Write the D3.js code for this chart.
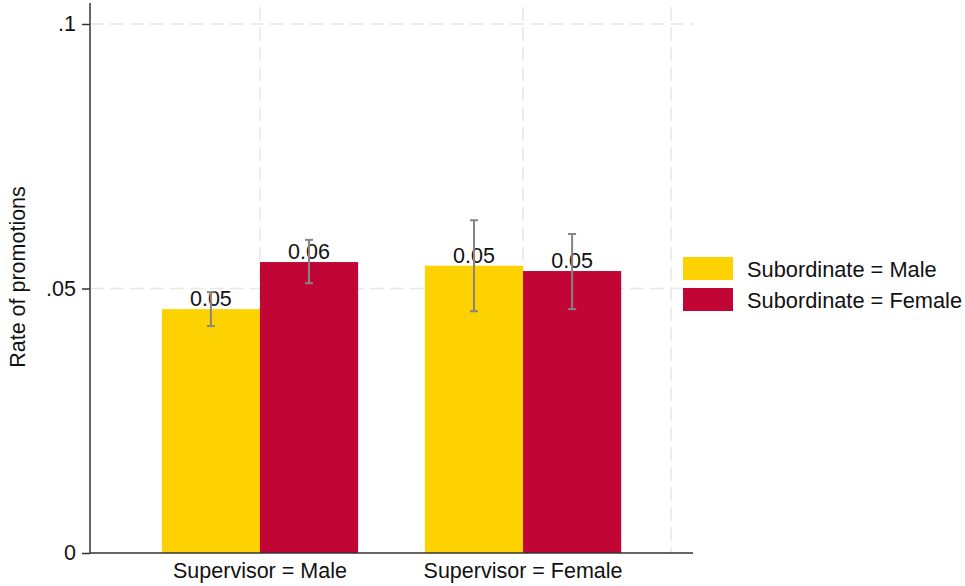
<!DOCTYPE html>
<html lang="en">
<head>
    <meta charset="UTF-8">
    <title>Rate of promotions</title>
    <script src="https://d3js.org/d3.v7.min.js"></script>
    <style>
        body { margin: 0; background: #fff; }
        text { font-family: Arial, "Liberation Sans", sans-serif; fill: #111; }
    </style>
</head>
<body>
    <svg width="965" height="586"></svg>

    <script>
        // Data
        const supervisors = ["Supervisor = Male", "Supervisor = Female"];
        const groupPos = [1, 2];
        const subordinates = ["Subordinate = Male", "Subordinate = Female"];
        const colors = ["#FED100", "#C10534"];
        const rates = [[0.0461, 0.0550], [0.0543, 0.0533]];
        const ciLow = [[0.0429, 0.0510], [0.0457, 0.0461]];
        const ciHigh = [[0.0493, 0.0592], [0.0629, 0.0603]];
        const yTicks = [0, 0.05, 0.1];
        const yTickLabels = ["0", ".05", ".1"];
        const xGrid = [1, 2, 2.563];

        const svg = d3.select("svg");
        const plotLeft = 90, plotRight = 693, plotTop = 3, plotBottom = 553;

        const x = d3.scaleLinear().domain([0.354, 2.646]).range([plotLeft, plotRight]);
        const y = d3.scaleLinear().domain([0, 0.1]).range([plotBottom, 24]);
        const barW = x(1.373) - x(1);

        // Grid lines
        svg.append("g").selectAll("line")
            .data(yTicks.filter(d => d > 0))
            .enter().append("line")
            .attr("x1", plotLeft).attr("x2", plotRight)
            .attr("y1", d => y(d)).attr("y2", d => y(d))
            .attr("stroke", "#e8e8e8").attr("stroke-width", 1.5)
            .attr("stroke-dasharray", "14,6");

        svg.append("g").selectAll("line")
            .data(xGrid)
            .enter().append("line")
            .attr("x1", d => x(d)).attr("x2", d => x(d))
            .attr("y1", 7).attr("y2", plotBottom)
            .attr("stroke", "#e8e8e8").attr("stroke-width", 1.5)
            .attr("stroke-dasharray", "14,6");

        // Bars
        const flat = [];
        rates.forEach((row, g) => row.forEach((v, s) => flat.push({
            g: g, s: s, v: v, lo: ciLow[g][s], hi: ciHigh[g][s]
        })));

        svg.append("g").selectAll("rect")
            .data(flat)
            .enter().append("rect")
            .attr("x", d => x(groupPos[d.g]) + (d.s === 0 ? -barW : 0))
            .attr("width", barW)
            .attr("y", d => y(d.v))
            .attr("height", d => y(0) - y(d.v))
            .attr("fill", d => colors[d.s]);

        // Value labels
        svg.append("g").selectAll("text")
            .data(flat)
            .enter().append("text")
            .attr("x", d => x(groupPos[d.g]) + (d.s === 0 ? -barW / 2 : barW / 2))
            .attr("y", d => y(d.v) - 3)
            .attr("text-anchor", "middle")
            .attr("font-size", 21.5)
            .text(d => d.v.toFixed(2));

        // Error bars
        const eb = svg.append("g").attr("stroke", "#858585").attr("stroke-width", 2);
        flat.forEach(d => {
            const cx = x(groupPos[d.g]) + (d.s === 0 ? -barW / 2 : barW / 2);
            eb.append("line").attr("x1", cx).attr("x2", cx)
                .attr("y1", y(d.lo)).attr("y2", y(d.hi));
            [d.lo, d.hi].forEach(v => {
                eb.append("line").attr("x1", cx - 4).attr("x2", cx + 4)
                    .attr("y1", y(v)).attr("y2", y(v));
            });
        });

        // Y axis
        const yAxis = svg.append("g")
            .attr("transform", "translate(" + plotLeft + ",0)")
            .call(d3.axisLeft(y).tickValues(yTicks)
                .tickFormat((d, i) => yTickLabels[i]).tickSize(8).tickPadding(6));
        yAxis.select(".domain").remove();
        yAxis.selectAll(".tick line").attr("stroke", "#333").attr("stroke-width", 1.5);
        yAxis.selectAll(".tick text").attr("font-size", 21.5).attr("font-family", "Arial, 'Liberation Sans', sans-serif").attr("fill", "#111");
        svg.append("line").attr("x1", plotLeft).attr("x2", plotLeft)
            .attr("y1", plotTop).attr("y2", plotBottom)
            .attr("stroke", "#333").attr("stroke-width", 1.5);

        // X axis
        svg.append("line").attr("x1", plotLeft).attr("x2", plotRight)
            .attr("y1", plotBottom).attr("y2", plotBottom)
            .attr("stroke", "#333").attr("stroke-width", 1.5);
        svg.append("g").selectAll("text")
            .data(supervisors)
            .enter().append("text")
            .attr("x", (d, i) => x(groupPos[i]))
            .attr("y", 578)
            .attr("text-anchor", "middle")
            .attr("font-size", 21.5)
            .text(d => d);

        // Y axis title
        svg.append("text")
            .attr("transform", "translate(25,277) rotate(-90)")
            .attr("text-anchor", "middle")
            .attr("font-size", 21.5)
            .text("Rate of promotions");

        // Legend
        const legend = svg.append("g");
        subordinates.forEach((name, i) => {
            legend.append("rect")
                .attr("x", 683).attr("y", 257 + i * 31)
                .attr("width", 50).attr("height", 23)
                .attr("fill", colors[i]);
            legend.append("text")
                .attr("x", 747).attr("y", 277 + i * 31)
                .attr("font-size", 21.8)
                .text(name);
        });
    </script>
</body>
</html>
